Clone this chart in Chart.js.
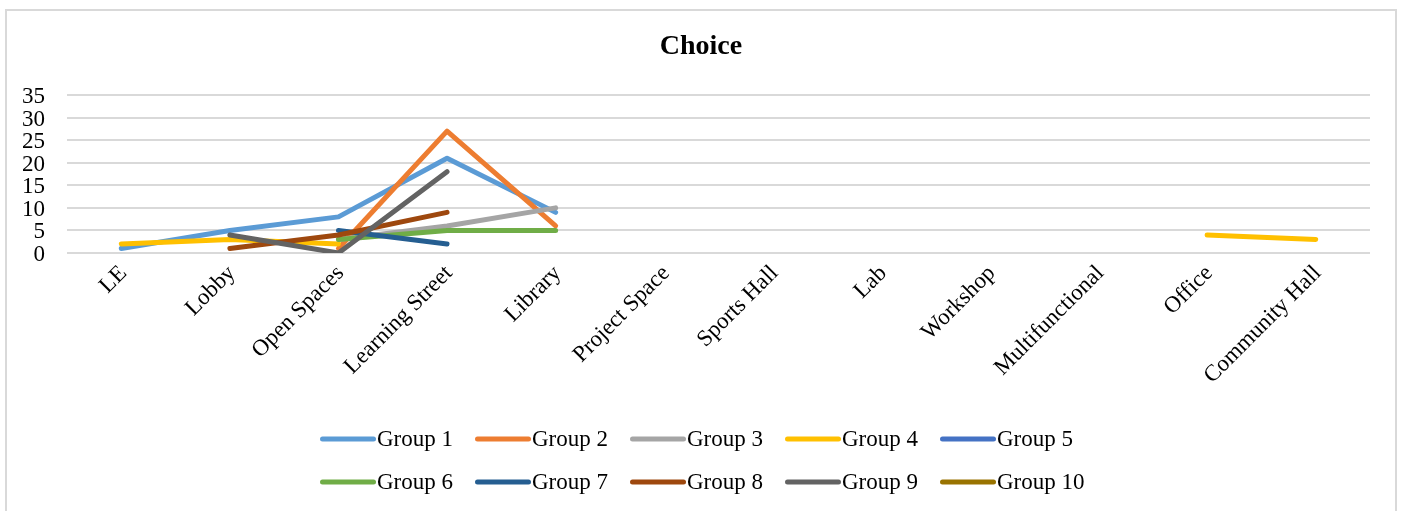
<!DOCTYPE html>
<html>
<head>
<meta charset="utf-8">
<title>Choice</title>
<script src="https://cdn.jsdelivr.net/npm/chart.js@4/dist/chart.umd.min.js"></script>
<style>
  html, body { margin: 0; padding: 0; background: #ffffff; }
  #wrap { position: relative; width: 1402px; height: 511px; overflow: hidden; }
  #frame { position: absolute; left: 5px; top: 9px; width: 1392px; height: 600px;
           border: 2px solid #d9d9d9; box-sizing: border-box; pointer-events: none; }
  canvas { position: absolute; left: 0; top: 0; }
</style>
</head>
<body>
<div id="wrap">
  <div id="frame"></div>
  <canvas id="chart" width="1402" height="511"></canvas>
</div>
<script>
// Space types along the horizontal axis
const categories = ['LE', 'Lobby', 'Open Spaces', 'Learning Street', 'Library', 'Project Space',
  'Sports Hall', 'Lab', 'Workshop', 'Multifunctional', 'Office', 'Community Hall'];

// Number of choices per space, one list per group (null = no entry)
const group1  = [1, 5, 8, 21, 9, null, null, null, null, null, null, null];
const group2  = [null, null, 1, 27, 6, null, null, null, null, null, null, null];
const group3  = [null, null, 3, 6, 10, null, null, null, null, null, null, null];
const group4  = [2, 3, 2, null, null, null, null, null, null, null, 4, 3];
const group5  = [null, null, null, null, null, null, null, null, null, null, null, null];
const group6  = [null, null, 3, 5, 5, null, null, null, null, null, null, null];
const group7  = [null, null, 5, 2, null, null, null, null, null, null, null, null];
const group8  = [null, 1, 4, 9, null, null, null, null, null, null, null, null];
const group9  = [null, 4, 0, 18, null, null, null, null, null, null, null, null];
const group10 = [null, null, null, null, null, null, null, null, null, null, null, null];

const seriesNames = ['Group 1', 'Group 2', 'Group 3', 'Group 4', 'Group 5',
  'Group 6', 'Group 7', 'Group 8', 'Group 9', 'Group 10'];
const seriesValues = [group1, group2, group3, group4, group5, group6, group7, group8, group9, group10];
const seriesColors = ['#5B9BD5', '#ED7D31', '#A5A5A5', '#FFC000', '#4472C4',
  '#70AD47', '#255E91', '#9E480E', '#636363', '#997300'];

// Y axis ticks
const yMin = 0, yMax = 35, yStep = 5;

const SERIF = "'Liberation Serif', 'Times New Roman', serif";
const LINE_W = 5;

const datasets = seriesNames.map((name, i) => ({
  label: name,
  data: seriesValues[i],
  borderColor: seriesColors[i],
  backgroundColor: seriesColors[i],
  borderWidth: LINE_W,
  borderCapStyle: 'round',
  borderJoinStyle: 'round',
  pointRadius: 0,
  pointHoverRadius: 0,
  tension: 0,
  spanGaps: false,
  yAxisID: 'y',
  order: seriesNames.length - i   // later groups are painted on top
}));

// Legend laid out as a grid of five columns under the axis labels
const gridLegend = {
  id: 'gridLegend',
  afterDraw(chart, args, opts) {
    const ctx = chart.ctx;
    ctx.save();
    ctx.font = opts.font;
    ctx.textBaseline = 'middle';
    ctx.textAlign = 'left';
    chart.data.datasets.forEach((ds, i) => {
      const col = i % opts.columns;
      const row = Math.floor(i / opts.columns);
      const x = opts.left + col * opts.columnWidth;
      const y = opts.top + row * opts.rowHeight;
      ctx.strokeStyle = ds.borderColor;
      ctx.lineWidth = LINE_W;
      ctx.lineCap = 'round';
      ctx.beginPath();
      ctx.moveTo(x + 2.5, y);
      ctx.lineTo(x + opts.lineLength - 2.5, y);
      ctx.stroke();
      ctx.fillStyle = '#000000';
      ctx.fillText(ds.label, x + opts.lineLength + 1, y + 1);
    });
    ctx.restore();
  }
};

new Chart(document.getElementById('chart'), {
  type: 'line',
  data: { labels: categories, datasets: datasets },
  plugins: [gridLegend],
  options: {
    responsive: false,
    animation: false,
    events: [],
    layout: { padding: { left: 0, right: 0, top: 0, bottom: 0 } },
    plugins: {
      legend: { display: false },
      tooltip: { enabled: false },
      title: {
        display: true,
        text: 'Choice',
        color: '#000000',
        font: { family: SERIF, size: 28, weight: 'bold', lineHeight: 1.2 },
        padding: { top: 30, bottom: 31.4 }
      },
      gridLegend: {
        font: "23px " + SERIF,
        columns: 5,
        left: 320,
        columnWidth: 155,
        top: 439,
        rowHeight: 43,
        lineLength: 56
      }
    },
    scales: {
      x: {
        offset: true,
        grid: { display: false, drawTicks: false },
        border: { display: false },
        ticks: {
          color: '#000000',
          font: { family: SERIF, size: 23 },
          minRotation: 45,
          maxRotation: 45,
          padding: 7,
          labelOffset: 2,
          autoSkip: false
        },
        afterFit(scale) { scale.height = 258; }
      },
      y: {
        min: yMin,
        max: yMax,
        grid: { color: '#d9d9d9', lineWidth: 2, drawTicks: false },
        border: { display: false },
        ticks: {
          stepSize: yStep,
          autoSkip: false,
          color: '#000000',
          font: { family: SERIF, size: 23, lineHeight: 1 },
          padding: 22,
          labelOffset: 2
        },
        afterFit(scale) { scale.width = 67; }
      },
      // empty right-hand gutter that keeps the plot clear of the frame
      gutter: {
        type: 'linear',
        position: 'right',
        display: true,
        grid: { display: false, drawTicks: false },
        border: { display: false },
        ticks: { display: false },
        afterFit(scale) { scale.width = 32; }
      }
    }
  }
});
</script>
</body>
</html>
